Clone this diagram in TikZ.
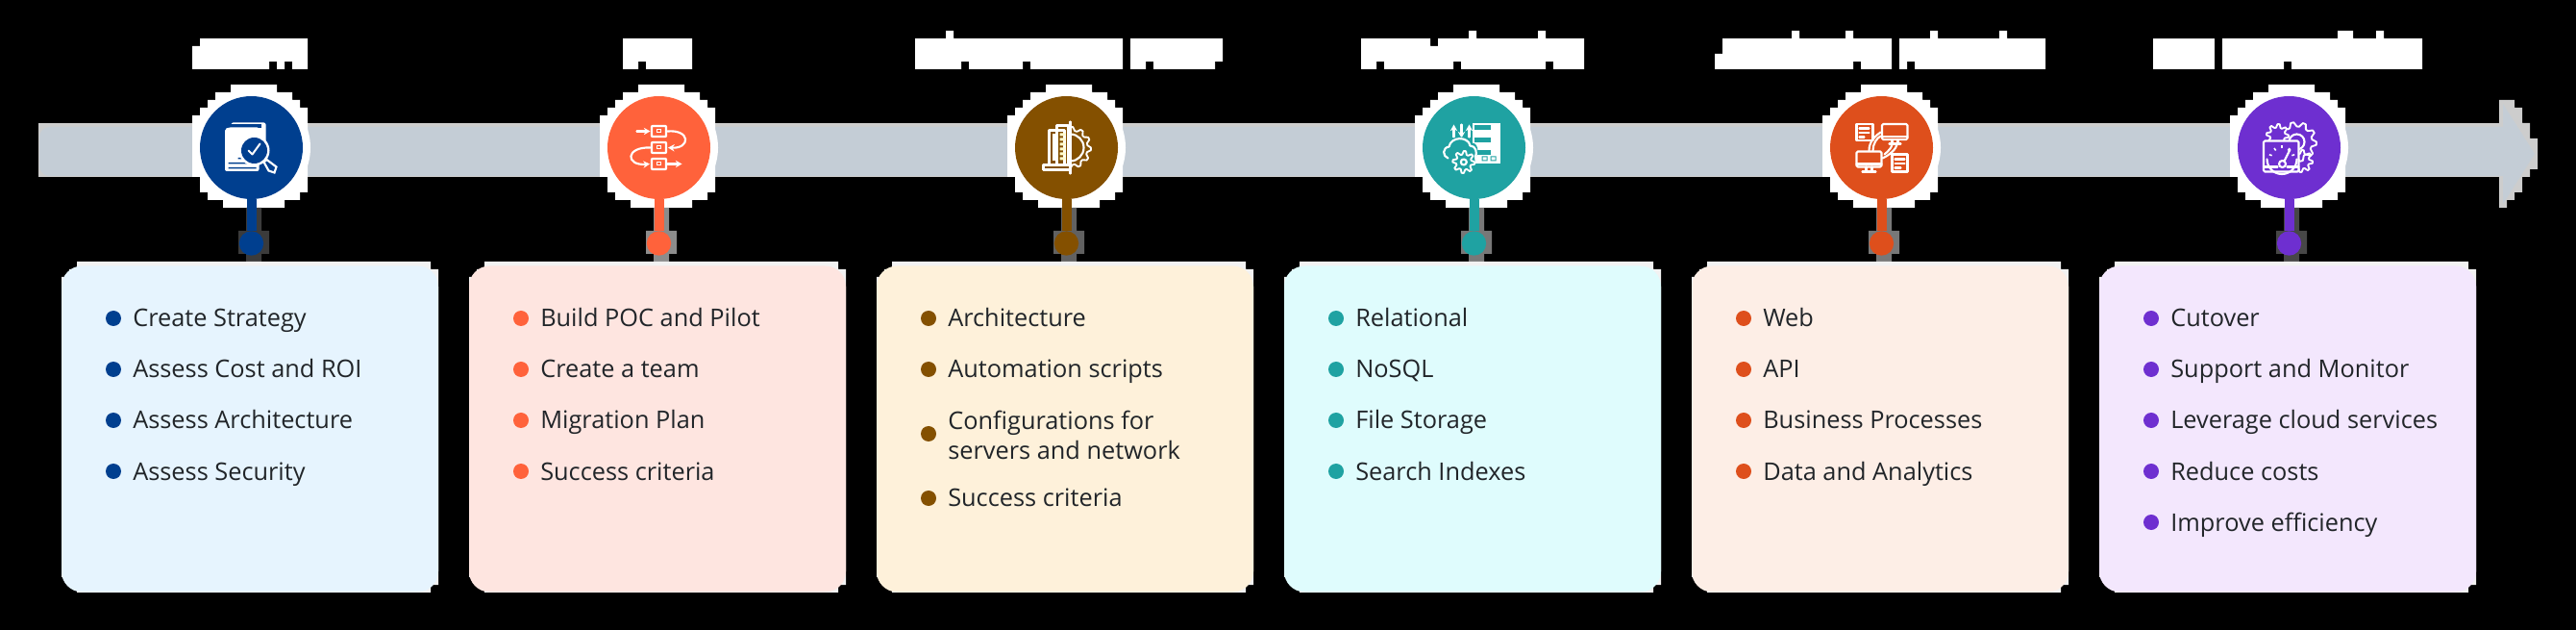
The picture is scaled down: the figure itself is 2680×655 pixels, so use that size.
\documentclass[tikz,border=0pt]{standalone}
\usepackage{fontspec}
\setmainfont{Open Sans}
\definecolor{ca}{HTML}{003F8F}\definecolor{cb}{HTML}{FF623B}\definecolor{cc}{HTML}{845000}
\definecolor{cd}{HTML}{1FA2A2}\definecolor{ce}{HTML}{DE4F1C}\definecolor{cf}{HTML}{6E2FD0}
\definecolor{pa}{HTML}{E6F4FE}\definecolor{pb}{HTML}{FEE5E0}\definecolor{pc}{HTML}{FEF1DA}
\definecolor{pd}{HTML}{DFFCFD}\definecolor{pe}{HTML}{FDEEE6}\definecolor{pf}{HTML}{F3E7FD}
\definecolor{barfill}{HTML}{C4CDD6}\definecolor{baredge}{HTML}{CDCDCD}\definecolor{inktext}{HTML}{212529}
\usetikzlibrary{arrows.meta}
\tikzset{
  hub/.style={circle,inner sep=0pt,minimum size=80.25pt,fill=#1},
  halo/.style={circle,inner sep=0pt,minimum size=92.25pt,fill=white},
  pin/.style={circle,inner sep=0pt,minimum size=19pt,fill=#1},
  stem/.style={line width=7.5pt,draw=#1},
  bulletdot/.style={circle,inner sep=0pt,minimum size=12pt,fill=#1},
  itemtext/.style={inner sep=0pt,text=inktext,font=\fontsize{19pt}{23.25pt}\selectfont,align=left},
  ic/.style={draw=white,line width=1.6pt,line join=round,line cap=round,fill=none},
  icarrow/.style={ic,-{Stealth[length=5pt,width=5.5pt]}},
}
% gear outline: cx, cy, body radius, tooth tip radius, teeth
\newcommand{\mygear}[5]{%
  \draw[ic,line width=1.4pt] plot[domain=0:4*#5,samples=4*#5+1]
    ({#1+(mod(round(\x),4)<1.5?#4:#3)*cos(\x*90/#5)},{#2+(mod(round(\x),4)<1.5?#4:#3)*sin(\x*90/#5)});}
\newcommand{\lineitem}[5]{% colour, name, dx, y, text
  \node[bulletdot=#1] (b#2) at (118+#3,#4) {};
  \node[itemtext,anchor=base west] (t#2) at (138+#3,#4+9) {#5};}
\begin{document}
\begin{tikzpicture}[x=0.75pt,y=-0.75pt]
\useasboundingbox (0,0) rectangle (2680,655);
\fill[black] (0,0) rectangle (2680,655);
% heading masks
\fill[white] (208,40)--(320,40)--(320,72)--(304,72)--(304,64)--(296,64)--(296,72)--(288,72)--(288,64)--(280,64)--(280,72)--(200,72)--(200,48)--(208,48)--cycle;
\fill[white] (648,40)--(720,40)--(720,72)--(672,72)--(672,64)--(664,64)--(664,72)--(648,72)--cycle;
\fill[white] (952,40)--(984,40)--(984,32)--(992,32)--(992,40)--(1168,40)--(1168,72)--(1072,72)--(1072,64)--(1064,64)--(1064,72)--(1008,72)--(1008,64)--(1000,64)--(1000,72)--(952,72)--cycle;
\fill[white] (1176,40)--(1272,40)--(1272,64)--(1264,64)--(1264,72)--(1200,72)--(1200,64)--(1192,64)--(1192,72)--(1176,72)--cycle;
\fill[white] (1416,40)--(1488,40)--(1488,48)--(1496,48)--(1496,40)--(1528,40)--(1528,32)--(1536,32)--(1536,40)--(1600,40)--(1600,32)--(1608,32)--(1608,40)--(1648,40)--(1648,72)--(1616,72)--(1616,64)--(1608,64)--(1608,72)--(1520,72)--(1520,64)--(1512,64)--(1512,72)--(1440,72)--(1440,64)--(1432,64)--(1432,72)--(1416,72)--cycle;
\fill[white] (1792,40)--(1864,40)--(1864,32)--(1872,32)--(1872,40)--(1920,40)--(1920,32)--(1928,32)--(1928,40)--(1968,40)--(1968,72)--(1936,72)--(1936,64)--(1928,64)--(1928,72)--(1784,72)--(1784,56)--(1792,56)--cycle;
\fill[white] (1976,40)--(2008,40)--(2008,32)--(2016,32)--(2016,40)--(2080,40)--(2080,32)--(2088,32)--(2088,40)--(2128,40)--(2128,72)--(1992,72)--(1992,64)--(1984,64)--(1984,72)--(1976,72)--cycle;
\fill[white] (2240,40) rectangle (2304,72);
\fill[white] (2312,40)--(2432,40)--(2432,32)--(2448,32)--(2448,40)--(2472,40)--(2472,32)--(2480,32)--(2480,40)--(2520,40)--(2520,72)--(2384,72)--(2384,64)--(2376,64)--(2376,72)--(2312,72)--cycle;
% timeline bar and arrow
\fill[baredge] (40,128) rectangle (2604,184);
\fill[baredge] (2600,104)--(2616,104)--(2616,112)--(2624,112)--(2624,128)--(2632,128)--(2632,144)--(2640,144)--(2640,176)--(2632,176)--(2632,184)--(2624,184)--(2624,200)--(2616,200)--(2616,208)--(2608,208)--(2608,216)--(2600,216)--cycle;
\fill[barfill,rounded corners=8pt] (41,132) rectangle (2620,183);
\fill[barfill] (2604,108)--(2637,160)--(2604,212)--cycle;
% columns
\foreach \i/\col/\pale/\gr in {0/ca/pa/23,1/cb/pb/55,2/cc/pc/38,3/cd/pd/47,4/ce/pe/47,5/cf/pf/28}{
\begin{scope}[shift={({424*\i},0)}]
  \fill[white] (240,88)--(288,88)--(288,96)--(304,96)--(304,104)--(312,104)--(312,112)--(320,112)--(320,200)--(312,200)--(312,208)--(296,208)--(296,216)--(232,216)--(232,208)--(216,208)--(216,200)--(208,200)--(208,184)--(200,184)--(200,120)--(208,120)--(208,112)--(216,112)--(216,104)--(224,104)--(224,96)--(240,96)--cycle;
  \node[halo] (h\i) at (261.5,153.5) {};
  \fill[white!\gr!black] (256,216) rectangle (272,240) (248,240) rectangle (280,264) (256,264) rectangle (272,272);
  \node[hub=\col] (c\i) at (261.5,153.5) {};
  \node[pin=\col] (d\i) at (261.5,253) {};
  \draw[stem=\col] (c\i.south) -- (d\i.north);
  % card
  \fill[black!5] (80,272)--(448,272)--(448,280)--(456,280)--(456,608)--(448,608)--(448,616)--(80,616)--(80,608)--(72,608)--(72,600)--(64,600)--(64,288)--(72,288)--(72,280)--(80,280)--cycle;
  \node[draw=none,fill=\pale,rounded corners=16pt,inner sep=0pt,minimum width=294pt,minimum height=254.25pt] (p\i) at (260,446) {};
\end{scope}}
% card texts
\lineitem{ca}{a1}{0}{331}{Create Strategy}
\lineitem{ca}{a2}{0}{384}{Assess Cost and ROI}
\lineitem{ca}{a3}{0}{437}{Assess Architecture}
\lineitem{ca}{a4}{0}{490}{Assess Security}
\lineitem{cb}{b1}{424}{331}{Build POC and Pilot}
\lineitem{cb}{b2}{424}{384}{Create a team}
\lineitem{cb}{b3}{424}{437}{Migration Plan}
\lineitem{cb}{b4}{424}{490}{Success criteria}
\lineitem{cc}{c1}{848}{331}{Architecture}
\lineitem{cc}{c2}{848}{384}{Automation scripts}
\node[bulletdot=cc] (bc3) at (966,451) {};
\node[itemtext,anchor=west] (tc3) at (986,452) {Configurations for\\servers and network};
\lineitem{cc}{c4}{848}{518}{Success criteria}
\lineitem{cd}{d1}{1272}{331}{Relational}
\lineitem{cd}{d2}{1272}{384}{NoSQL}
\lineitem{cd}{d3}{1272}{437}{File Storage}
\lineitem{cd}{d4}{1272}{490}{Search Indexes}
\lineitem{ce}{e1}{1696}{331}{Web}
\lineitem{ce}{e2}{1696}{384}{API}
\lineitem{ce}{e3}{1696}{437}{Business Processes}
\lineitem{ce}{e4}{1696}{490}{Data and Analytics}
\lineitem{cf}{f1}{2120}{331}{Cutover}
\lineitem{cf}{f2}{2120}{384}{Support and Monitor}
\lineitem{cf}{f3}{2120}{437}{Leverage cloud services}
\lineitem{cf}{f4}{2120}{490}{Reduce costs}
\lineitem{cf}{f5}{2120}{543}{Improve efficiency}
% icon 1: document and magnifier
\begin{scope}[shift={(c0.center)}]
  \fill[white,rounded corners=1.5pt] (-21,-26) rectangle (15,0);
  \fill[ca] (-25,-24) rectangle (10,-20);
  \fill[white,rounded corners=1.5pt] (-27.5,-19.5)--(-24,-21)--(8,-21)--(8,24.5)--(-27.5,24.5)--cycle;
  \fill[ca] (-24,22) rectangle (5,20.5) (-24,17) rectangle (0,15.5) (-14,12) rectangle (-2,10.5);
  \fill[white] (3,3) circle (16);
  \fill[ca] (3,3) circle (13.5);
  \draw[white,line width=1.5pt,line cap=round,line join=round] (-3,3)--(1,7)--(9,-4);
  \draw[white,line width=1.6pt] (13,15)--(16,12.5)--(26,20)--(24,26)--(18,24)--cycle;
\end{scope}
% icon 2: process flow
\begin{scope}[shift={(c1.center)}]
  \foreach \yy in {-17,0,17}{\draw[ic,rounded corners=.5pt] (-7.5,\yy-5.5) rectangle (7.5,\yy+5.5); \fill[white] (-2.5,\yy-2) rectangle (2.5,\yy+2); \fill[cb] (-1.3,\yy-1) rectangle (1.3,\yy+1);}
  \draw[icarrow] (-23,-17)--(-9,-17);
  \draw[icarrow] (9,17)--(24,17);
  \draw[icarrow] (9,-17)..controls (33,-19) and (33,1)..(9.5,0);
  \draw[icarrow] (-9,0)..controls (-35,-1) and (-35,19)..(-9.5,17);
\end{scope}
% icon 3: building and gear
\begin{scope}[shift={(c2.center)}]
  \begin{scope}
    \clip (4,-30) rectangle (30,30);
    \draw[ic] (4,0) circle (14);
    \mygear{4}{0}{18}{21.5}{12}
  \end{scope}
  \draw[ic] (4,-27)--(4,27);
  \draw[ic] (-18,-18) rectangle (-2,18);
  \draw[ic] (-10,-23) rectangle (2,18);
  \fill[white!80!yellow] (-7,-15) rectangle (-1,-12) (-7,-10) rectangle (-1,-7) (-7,-5) rectangle (-1,-2) (-7,0) rectangle (-1,3) (-7,5) rectangle (-1,8) (-7,10) rectangle (-1,13);
  \draw[ic] (-24,18) rectangle (4,23);
  \fill[white] (-15,-14) rectangle (-12,14);
\end{scope}
% icon 4: server, cloud, gear
\begin{scope}[shift={(c3.center)}]
  \fill[white] (-2,-25) rectangle (27,16.5);
  \foreach \yy in {-20,-7,6}{\fill[cd] (0,\yy-3) rectangle (17,\yy+2);}
  \fill[cd] (8,9) rectangle (14,14) (17,9) rectangle (23,14);
  \fill[white] (9,10) rectangle (13,13) (18,10) rectangle (22,13);
  \draw[icarrow] (-21,-11)--(-21,-24);
  \draw[icarrow] (-13,-24)--(-13,-10);
  \draw[icarrow] (-5,-11)--(-5,-24);
  \fill[cd] (-27,-6)..controls (-22,-13) and (-6,-13)..(-2,-5)..controls (6,-5) and (6,12)..(-3,12)--(-26,12)..controls (-33,10) and (-33,-5)..(-27,-6)--cycle;
  \draw[ic] (-27,11)..controls (-33,9) and (-33,0)..(-26,-1)..controls (-24,-12) and (-6,-12)..(-4,-2)..controls (2,-2) and (4,6)..(1,10);
  \fill[cd] (-10.7,15) circle (12);
  \mygear{-10.7}{15}{8}{11.5}{8}
  \draw[ic] (-10.7,15) circle (3);
\end{scope}
% icon 5: connected computers
\begin{scope}[shift={(c4.center)}]
  \draw[ic,rounded corners=1pt] (0.5,-24.5) rectangle (27,-8.5);
  \draw[ic] (0.5,-11.5)--(27,-11.5) (11,-8.5)--(11,-4) (17,-8.5)--(17,-4) (8,-4)--(20,-4);
  \draw[ic,rounded corners=1pt] (-26,4) rectangle (0,20);
  \draw[ic] (-26,17)--(0,17) (-16,20)--(-16,25) (-10,20)--(-10,25) (-20,25)--(-6,25);
  \draw[ic] (-26,-24.5) rectangle (-9,-7.5);
  \draw[ic] (-23,-20)--(-13,-20) (-23,-15.5)--(-13,-15.5) (-23,-11)--(-18,-11);
  \draw[ic] (11,7) rectangle (27,25);
  \draw[ic] (14,12)--(24,12) (14,16.5)--(24,16.5) (14,21)--(20,21);
  \draw[ic] (-1,-16)..controls (-7,-12) and (-13,-6)..(-13,3);
  \draw[ic] (-1,-12)..controls (-5,-10) and (-9,-4)..(-9,3);
  \draw[ic] (3,7)..controls (8,3) and (11,-1)..(11,-4);
  \draw[ic] (1,11)..controls (8,8) and (16,1)..(16,-4);
\end{scope}
% icon 6: gauge and gears
\begin{scope}[shift={(c5.center)}]
  \mygear{8}{-6}{16}{20.5}{10}
  \draw[ic] (8,-6) circle (8);
  \fill[cf] (-12,-13) circle (12);
  \mygear{-12}{-13}{8}{11.5}{8}
  \mygear{13}{14}{8}{11.5}{8}
  \fill[cf] (-26.5,-7) rectangle (10,25);
  \draw[ic,rounded corners=1pt] (-26.5,-7) rectangle (10,25);
  \draw[ic] (-26.5,20)--(-12,20) (-2,20)--(10,20);
  \draw[ic] (-23,12) arc[start angle=180,end angle=0,radius=15.5];
  \draw[ic] (-5,14)--(1,2);
  \draw[ic] (-7,17) circle (3.5);
  \foreach \a in {200,235,270,305,340}{\draw[white,line width=1.2pt] (-7.5,12) ++(\a:11)--++(\a:3);}
\end{scope}
\end{tikzpicture}
\end{document}
